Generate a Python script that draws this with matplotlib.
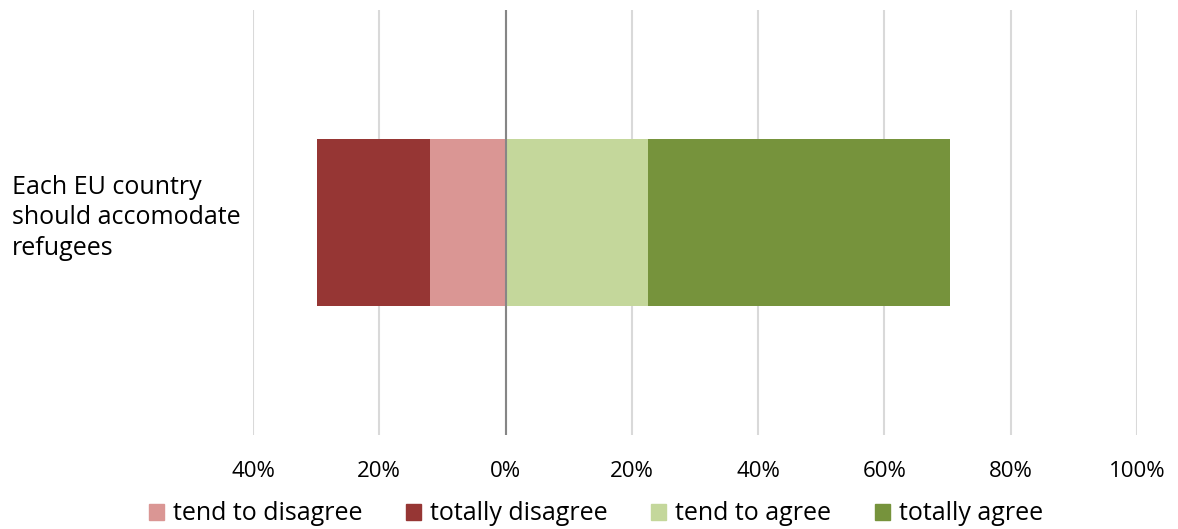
#!/usr/bin/env python3
"""Diverging bar: EU refugee accommodation opinion."""

import matplotlib

matplotlib.use("Agg")
import matplotlib.pyplot as plt
from matplotlib.patches import Patch

plt.rcParams["font.family"] = ["Open Sans", "DejaVu Sans"]

categories = ["Each EU country\nshould accomodate\nrefugees"]
tend_disagree = [12.0]
totally_disagree = [17.9]
tend_agree = [22.5]
totally_agree = [47.9]
ticks = [-40, -20, 0, 20, 40, 60, 80, 100]

C_TD = "#DA9694"
C_TOD = "#963634"
C_TA = "#C4D79B"
C_TOA = "#76933C"

W, H = 1178, 529
fig = plt.figure(figsize=(W / 100, H / 100), dpi=100)
ax = fig.add_axes([253 / W, 1 - 435 / H, (1137 - 253) / W, (435 - 10) / H])

y = [0]
bh = 0.786
ax.barh(y, [-v for v in tend_disagree], height=bh, color=C_TD, zorder=2)
ax.barh(y, [-v for v in totally_disagree], left=[-v for v in tend_disagree],
        height=bh, color=C_TOD, zorder=2)
ax.barh(y, tend_agree, height=bh, color=C_TA, zorder=2)
ax.barh(y, totally_agree, left=tend_agree, height=bh, color=C_TOA, zorder=2)

ax.set_xlim(ticks[0], ticks[-1])
ax.set_ylim(-1, 1)
for t in ticks:
    ax.axvline(t, color="#D9D9D9", linewidth=1.5, zorder=1)
ax.axvline(0, color="#868686", linewidth=1.5, zorder=3)

ax.set_xticks(ticks)
ax.set_xticklabels([f"{abs(t)}%" for t in ticks], fontsize=16, color="#000000")
ax.tick_params(axis="x", length=0, pad=19)
ax.set_yticks([])
for s in ax.spines.values():
    s.set_visible(False)

fig.text(12 / W, 1 - 218 / H, categories[0], ha="left", va="center",
         fontsize=18, linespacing=1.3)

handles = [
    Patch(color=C_TD, label="tend to disagree"),
    Patch(color=C_TOD, label="totally disagree"),
    Patch(color=C_TA, label="tend to agree"),
    Patch(color=C_TOA, label="totally agree"),
]
fig.legend(handles=handles, loc="center", bbox_to_anchor=(596 / W, 1 - 514 / H),
           ncol=4, frameon=False, fontsize=18, handlelength=0.6, handleheight=0.6,
           handletextpad=0.35, columnspacing=1.75)

fig.savefig("out.png", dpi=100)
